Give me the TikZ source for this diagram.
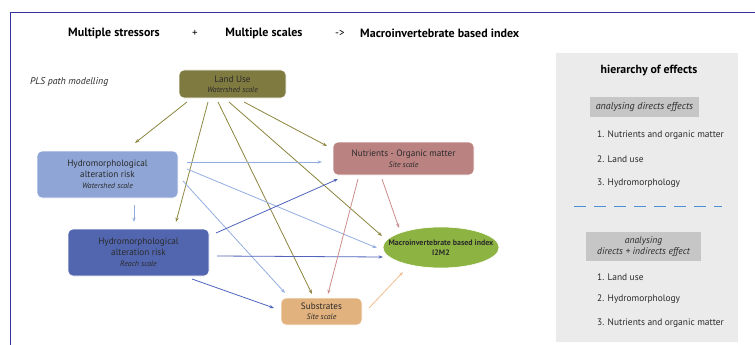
\documentclass[tikz,border=0pt]{standalone}
\usepackage{fontspec}
\setmainfont{PT Sans}
\usetikzlibrary{arrows.meta,calc,shapes.geometric}
\definecolor{frameC}{HTML}{33339A}
\definecolor{luC}{HTML}{7F7A40}
\definecolor{luA}{HTML}{8A843E}
\definecolor{hwC}{HTML}{8EA5D6}
\definecolor{hwA}{HTML}{93ADE0}
\definecolor{hrC}{HTML}{5266B0}
\definecolor{hrA}{HTML}{5064BC}
\definecolor{nuC}{HTML}{BB8282}
\definecolor{nuA}{HTML}{CC8C8C}
\definecolor{suC}{HTML}{E2B27E}
\definecolor{suA}{HTML}{F2BE8E}
\definecolor{elC}{HTML}{8DB443}
\definecolor{panelC}{HTML}{EBEBEB}
\definecolor{tagC}{HTML}{C6C6C6}
\definecolor{dashC}{HTML}{4A90D4}
\definecolor{txtC}{HTML}{2A2A2A}
\tikzset{
  boxnode/.style={rounded corners=5pt, draw=white, line width=0.6pt, align=center, inner sep=0pt, text=txtC, font=\fontsize{9.2}{11}\selectfont},
  arr/.style={line width=0.8pt, -{Stealth[length=4.5pt,width=3.2pt]}},
  tag/.style={fill=tagC, align=center, inner sep=0pt, font=\fontsize{10}{12}\selectfont\itshape, text=txtC},
  item/.style={anchor=west, inner sep=0pt, font=\fontsize{9.4}{11}\selectfont, text=txtC},
  ttl/.style={inner sep=0pt, font=\fontsize{12}{14}\selectfont\bfseries, text=black}
}
\newcommand{\scl}[1]{{\fontsize{7.8}{9}\selectfont\itshape #1}}
\begin{document}
\begin{tikzpicture}[x=1pt,y=-1pt]
\useasboundingbox (0,0) rectangle (755,345);
% frame
\draw[frameC, line width=0.8pt] (10.5,345) -- (10.5,12.5) -- (755,12.5);
% title
\node[ttl] (t1) at (114,33) {Multiple stressors};
\node[ttl, font=\fontsize{11}{12}\selectfont] (t2) at (195,33) {+};
\node[ttl] (t3) at (264,33) {Multiple scales};
\node[ttl, font=\fontsize{11}{12}\selectfont] (t4) at (340,33) {->};
\node[ttl, anchor=west] (t5) at (360,33) {Macroinvertebrate based index};
\node[inner sep=0pt, anchor=west, font=\fontsize{9.8}{11}\selectfont\itshape, text=txtC] (pls) at (30,82) {PLS path modelling};
% nodes
\node[boxnode, fill=luC, minimum width=107pt, minimum height=28pt] (lu) at (232.5,84) {Land Use\\[-1pt]\scl{Watershed scale}};
\node[boxnode, fill=hwC, minimum width=141pt, minimum height=47pt] (hw) at (107.5,174.5) {Hydromorphological\\alteration risk\\\scl{Watershed scale}};
\node[boxnode, fill=hrC, minimum width=141pt, minimum height=47pt] (hr) at (138.5,252.5) {Hydromorphological\\alteration risk\\\scl{Reach scale}};
\node[boxnode, fill=nuC, minimum width=141pt, minimum height=33pt] (nu) at (403.5,158.5) {Nutrients - Organic matter\\\scl{Site scale}};
\node[boxnode, fill=suC, minimum width=81pt, minimum height=27pt] (su) at (321.5,311.5) {Substrates\\[-1pt]\scl{Site scale}};
\node[ellipse, fill=elC, draw=white, line width=0.6pt, minimum width=116pt, minimum height=41pt, inner sep=0pt] (el) at (441,247.5) {};
\node[inner sep=0pt, align=center, text=txtC, font=\fontsize{7.9}{10}\selectfont\bfseries] (elt) at (el) {Macroinvertebrate based index\\I2M2};
% land use arrows
\draw[arr, luA] ($(lu)+(-45.5,18)$) -- ($(hw)+(27.5,-31.5)$);
\draw[arr, luA] ($(lu)+(-24.5,18)$) -- ($(hr)+(37.5,-30.5)$);
\draw[arr, luA] ($(lu)+(-14.5,18)$) -- ($(su)+(-9.5,-17.5)$);
\draw[arr, luA] ($(lu)+(-3.5,18)$) -- ($(el)+(-59,-11.5)$);
\draw[arr, luA] ($(lu)+(11.5,18)$) -- ($(nu)+(-76.5,-12.5)$);
% hydro watershed arrows
\draw[arr, hwA] ($(hw)+(79.5,-12.5)$) -- ($(nu)+(-81.5,3.5)$);
\draw[arr, hwA] ($(hw)+(79.5,-5.5)$) -- ($(el)+(-64,0.5)$);
\draw[arr, hwA] ($(hw)+(75.5,6.5)$) -- ($(su)+(-36.5,-18.5)$);
\draw[arr, hwA] ($(hw)+(26.5,30.5)$) -- ($(hr)+(-4.5,-30.5)$);
% hydro reach arrows
\draw[arr, hrA] ($(hr)+(77.5,-19.5)$) -- ($(nu)+(-65.5,20.5)$);
\draw[arr, hrA] ($(hr)+(78.5,3.5)$) -- ($(el)+(-58,9.5)$);
\draw[arr, hrA] ($(hr)+(53.5,26.5)$) -- ($(su)+(-47.5,-3.5)$);
% nutrients arrows
\draw[arr, nuA] ($(nu)+(-45.5,20.5)$) -- ($(su)+(6.5,-17.5)$);
\draw[arr, nuA] ($(nu)+(-21.5,20.5)$) -- ($(el)+(-42,-19.5)$);
% substrates arrow
\draw[arr, suA] ($(su)+(47.5,-3.5)$) -- ($(el)+(-38,24.5)$);
% right panel
\node[fill=panelC, minimum width=182pt, minimum height=289pt, inner sep=0pt] (panel) at (647,197.5) {};
\node[inner sep=0pt, font=\fontsize{11.8}{13}\selectfont\bfseries, text=black] (hier) at (649,71) {hierarchy of effects};
\node[tag, minimum width=109pt, minimum height=20pt] (tg1) at (644.5,107) {analysing directs effects};
\node[item] (i11) at (597,135) {1. Nutrients and organic matter};
\node[item] (i12) at (597,159) {2. Land use};
\node[item] (i13) at (597,183) {3. Hydromorphology};
\coordinate (dl) at (574,206);
\coordinate (dr) at (722,206);
\draw[dashC, line width=0.8pt, dash pattern=on 12pt off 8pt] (dl) -- (dr);
\node[tag, minimum width=115pt, minimum height=29pt, font=\fontsize{9.6}{11.5}\selectfont\itshape] (tg2) at (643.5,246.5) {analysing\\directs + indirects effect};
\node[item] (i21) at (597,277) {1. Land use};
\node[item] (i22) at (597,299) {2. Hydromorphology};
\node[item] (i23) at (597,323) {3. Nutrients and organic matter};
\end{tikzpicture}
\end{document}
